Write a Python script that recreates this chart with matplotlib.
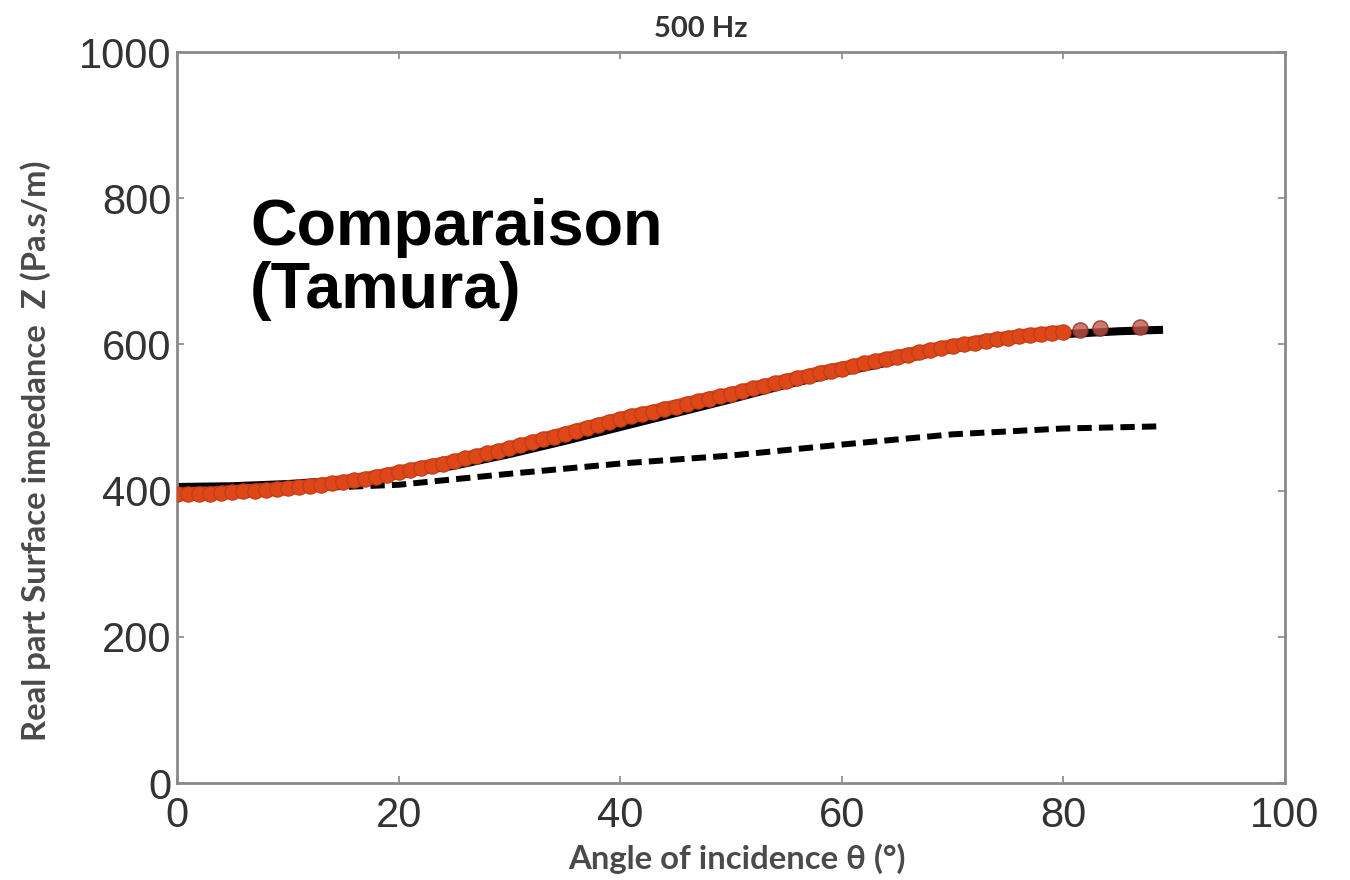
import matplotlib
matplotlib.use("Agg")
import matplotlib.pyplot as plt

# Angle of incidence (degrees)
theta_model = [0, 5, 10, 15, 20, 25, 30, 35, 40, 45, 50, 55, 60, 65, 70, 75, 80, 85, 89]
# Real part of the surface impedance, full model (solid black)
z_model = [405, 406, 409, 414, 422, 434, 450, 468, 487, 506, 525, 545, 562, 578, 594, 606, 614, 618, 620]
# Local-reaction approximation (dashed black)
theta_local = [0, 10, 20, 30, 40, 50, 60, 70, 80, 89]
z_local = [400, 402, 408, 423, 437, 448, 463, 477, 485, 488]

# Tamura measurement, dense samples then sparser near grazing incidence
theta_tamura = [0, 1, 2, 3, 4, 5, 6, 7, 8, 9, 10, 11, 12, 13, 14, 15, 16, 17, 18, 19,
                20, 21, 22, 23, 24, 25, 26, 27, 28, 29, 30, 31, 32, 33, 34, 35, 36, 37, 38, 39,
                40, 41, 42, 43, 44, 45, 46, 47, 48, 49, 50, 51, 52, 53, 54, 55, 56, 57, 58, 59,
                60, 61, 62, 63, 64, 65, 66, 67, 68, 69, 70, 71, 72, 73, 74, 75, 76, 77, 78, 79,
                80, 81.5, 83.3, 86.9]
z_tamura = [395, 395, 396, 396, 397, 398, 399, 400, 401, 402, 403, 405, 406, 408, 410, 412, 414, 416, 419, 422,
            425, 428, 431, 434, 437, 440, 444, 447, 451, 454, 458, 462, 466, 470, 474, 478, 482, 486, 490, 494,
            498, 502, 505, 508, 512, 515, 519, 522, 526, 529, 532, 536, 540, 543, 547, 550, 554, 557, 561, 564,
            567, 570, 574, 577, 580, 583, 586, 589, 592, 595, 598, 600, 602, 605, 607, 609, 611, 613, 614, 616,
            617, 620, 622, 624]

x_ticks = [0, 20, 40, 60, 80, 100]
y_ticks = [0, 200, 400, 600, 800, 1000]

fig = plt.figure(figsize=(13.5, 8.8), dpi=100)
ax = fig.add_axes([0.1311, 0.1102, 0.8207, 0.8307])

ax.plot(theta_model, z_model, color="black", lw=5.8, solid_capstyle="butt", zorder=2)
ax.plot(theta_local, z_local, color="black", lw=4.3, dashes=(2.4, 1.2), zorder=2)

n_dense = 81
# dense part of the measurement: overlapping circles forming a band
ax.plot(theta_tamura[:n_dense], z_tamura[:n_dense], color="#de4818", lw=10, zorder=3,
        marker="o", ms=11, markerfacecolor="#de4818", markeredgecolor="#c23a16",
        markeredgewidth=0.8, solid_capstyle="round")
# sparse points near grazing incidence
ax.plot(theta_tamura[n_dense:], z_tamura[n_dense:], linestyle="none", marker="o", ms=11,
        markerfacecolor="#c2564a", markeredgecolor="#8a2a22", markeredgewidth=1.0,
        alpha=0.8, zorder=4)

ax.set_xlim(0, 100)
ax.set_ylim(0, 1000)
ax.set_xticks(x_ticks)
ax.set_yticks(y_ticks)
ax.tick_params(direction="in", length=5, width=1.2, color="#888888",
               top=True, right=True, labelsize=30, labelcolor="#333333")
ax.tick_params(axis="x", pad=9)
ax.tick_params(axis="y", pad=4)
for lbl in ax.get_xticklabels() + ax.get_yticklabels():
    lbl.set_family("Liberation Sans")
for sp in ax.spines.values():
    sp.set_color("#8a8a8a")
    sp.set_linewidth(2)

ax.set_xlabel("Angle of incidence θ (°)", family="Lato", fontsize=23.7, color="#4a4a4a",
              fontweight="bold")
ax.xaxis.set_label_coords(0.505, -0.082)
ax.set_ylabel("Real part Surface impedance  Z (Pa.s/m)", family="Lato", fontsize=23.7,
              color="#4a4a4a", fontweight="bold")
ax.yaxis.set_label_coords(-0.114, 0.454)
ax.set_title("500 Hz", family="Lato", fontsize=21, color="#333333", fontweight="bold",
             x=0.473, pad=11)

ax.text(0.066, 0.80, "Comparaison\n(Tamura)", transform=ax.transAxes, family="Liberation Sans",
        fontsize=46.5, fontweight="bold", color="black", va="top", ha="left", linespacing=1.05)

fig.savefig("out.png", dpi=100, facecolor="white")
